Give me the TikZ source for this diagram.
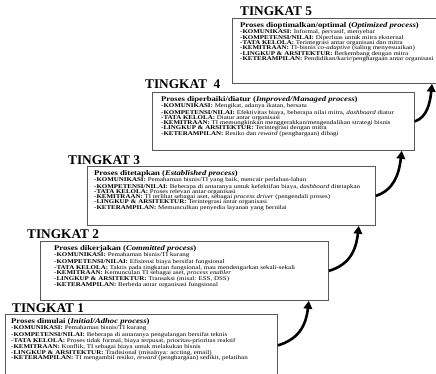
\documentclass[tikz,border=0pt]{standalone}
\usepackage{fontspec}
\setmainfont{Liberation Serif}
\newfontfamily\bodyfont[FakeStretch=1.2]{Liberation Serif}
\usetikzlibrary{arrows.meta}
\tikzset{
  lvlbox/.style={draw=black!65, line width=0.8pt, fill=white, inner sep=0pt, anchor=north west},
  lvllabel/.style={font=\fontsize{13.3}{13}\selectfont\bfseries, inner sep=0pt, anchor=base west},
  lvltext/.style={font=\bodyfont\fontsize{5.8}{5.3}\selectfont, inner sep=0pt, anchor=north west, align=left},
  curvearr/.style={line width=2.6pt, -{Triangle[length=8pt,width=8.5pt]}},
}
\newcommand\lvltitle[2]{{\fontsize{7.2}{6.4}\selectfont\textbf{#1 (\textit{#2})}}}
\newcommand\lvlitem[1]{\textbf{-#1:}}
\begin{document}
\begin{tikzpicture}[x=1pt,y=-1pt]
\useasboundingbox (0,0) rectangle (436,373);
% boxes
\node[lvlbox, minimum width=272pt, minimum height=62pt] (b1) at (5,314) {};
\node[lvlbox, minimum width=288pt, minimum height=59pt] (b2) at (40,241) {};
\node[lvlbox, minimum width=288pt, minimum height=59pt] (b3) at (87,166) {};
\node[lvlbox, minimum width=262pt, minimum height=58pt] (b4) at (152,92) {};
\node[lvlbox, minimum width=206pt, minimum height=65pt] (b5) at (232,18) {};
% labels
\node[lvllabel] (l1) at (12,312) {TINGKAT 1};
\node[lvllabel] (l2) at (27,238) {TINGKAT 2};
\node[lvllabel] (l3) at (68,164) {TINGKAT 3};
\node[lvllabel] (l4) at (145,88) {TINGKAT\ \ 4};
\node[lvllabel] (l5) at (240,15) {TINGKAT 5};
% texts
\node[lvltext] (t1) at ([xshift=6pt,yshift=-4pt]b1.north west) {%
\lvltitle{Proses dimulai}{Initial/Adhoc process}\\
\lvlitem{KOMUNIKASI} Pemahaman bisnis/TI kurang\\
\lvlitem{KOMPETENSI/NILAI} Beberapa di antaranya pengulangan bersifat teknis\\
\lvlitem{TATA KELOLA} Proses tidak formal, biaya terpusat, prioritas-prioritas reaktif\\
\lvlitem{KEMITRAAN} Konflik, TI sebagai biaya untuk melakukan bisnis\\
\lvlitem{LINGKUP \& ARSITEKTUR} Tradisional (misalnya: accting, email)\\
\lvlitem{KETERAMPILAN} TI mengambil resiko, \textit{reward} (penghargaan) sedikit, pelatihan};
\node[lvltext] (t2) at ([xshift=14pt,yshift=-4pt]b2.north west) {%
\lvltitle{Proses dikerjakan}{Committed process}\\
\lvlitem{KOMUNIKASI} Pemahaman bisnis/TI kurang\\
\lvlitem{KOMPETENSI/NILAI} Efisiensi biaya bersifat fungsional\\
\lvlitem{TATA KELOLA} Taktis pada tingkatan fungsional, mau mendengarkan sekali-sekali\\
\lvlitem{KEMITRAAN} Kemunculan TI sebagai aset, \textit{process enabler}\\
\lvlitem{LINGKUP \& ARSITEKTUR} Transaksi (misal: ESS, DSS)\\
\lvlitem{KETERAMPILAN} Berbeda antar organisasi fungsional};
\node[lvltext] (t3) at ([xshift=7pt,yshift=-4pt]b3.north west) {%
\lvltitle{Proses ditetapkan}{Established process}\\
\lvlitem{KOMUNIKASI} Pemahaman bisnis/TI yang baik, mencair perlahan-lahan\\
\lvlitem{KOMPETENSI/NILAI} Beberapa di antaranya untuk kefektifan biaya, \textit{dashboard} ditetapkan\\
\lvlitem{TATA KELOLA} Proses relevan antar organisasi\\
\lvlitem{KEMITRAAN} TI terlihat sebagai aset, sebagai \textit{process driver} (pengendali proses)\\
\lvlitem{LINGKUP \& ARSITEKTUR} Terintegrasi antar organisasi\\
\lvlitem{KETERAMPILAN} Memunculkan penyedia layanan yang bernilai};
\node[lvltext] (t4) at ([xshift=9pt,yshift=-4pt]b4.north west) {%
\lvltitle{Proses diperbaiki/diatur}{Improved/Managed process}\\
\lvlitem{KOMUNIKASI} Mengikat, adanya ikatan, bersatu\\
\lvlitem{KOMPETENSI/NILAI} Efektivitas biaya, beberapa nilai mitra, \textit{dashboard} diatur\\
\lvlitem{TATA KELOLA} Diatur antar organisasi\\
\lvlitem{KEMITRAAN} TI memungkinkan menggerakkan/mengendalikan strategi bisnis\\
\lvlitem{LINGKUP \& ARSITEKTUR} Terintegrasi dengan mitra\\
\lvlitem{KETERAMPILAN} Resiko dan \textit{reward} (penghargaan) dibagi};
\node[lvltext] (t5) at ([xshift=8pt,yshift=-4pt]b5.north west) {%
\lvltitle{Proses dioptimalkan/optimal}{Optimized process}\\
\lvlitem{KOMUNIKASI} Informal, pervasif, menyebar\\
\lvlitem{KOMPETENSI/NILAI} Diperluas untuk mitra eksternal\\
\lvlitem{TATA KELOLA} Terintegrasi antar organisasi dan mitra\\
\lvlitem{KEMITRAAN} TI-bisnis \textit{co-adaptive} (saling menyesuaikan)\\
\lvlitem{LINGKUP \& ARSITEKTUR} Berkembang dengan mitra\\
\lvlitem{KETERAMPILAN} Pendidikan/karir/penghargaan antar organisasi};
% arrows
\draw[curvearr] (b1.east) .. controls +(20,-6) and +(-3,26) .. ([xshift=-20pt]b2.south east);
\draw[curvearr] (b2.east) .. controls +(20,-6) and +(-3,26) .. ([xshift=-17pt]b3.south east);
\draw[curvearr] (b3.east) .. controls +(18,-6) and +(-3,24) .. ([xshift=-13pt]b4.south east);
\draw[curvearr] (b4.east) .. controls +(12,-4) and +(-2,20) .. ([xshift=200pt]b5.south west);
\end{tikzpicture}
\end{document}
